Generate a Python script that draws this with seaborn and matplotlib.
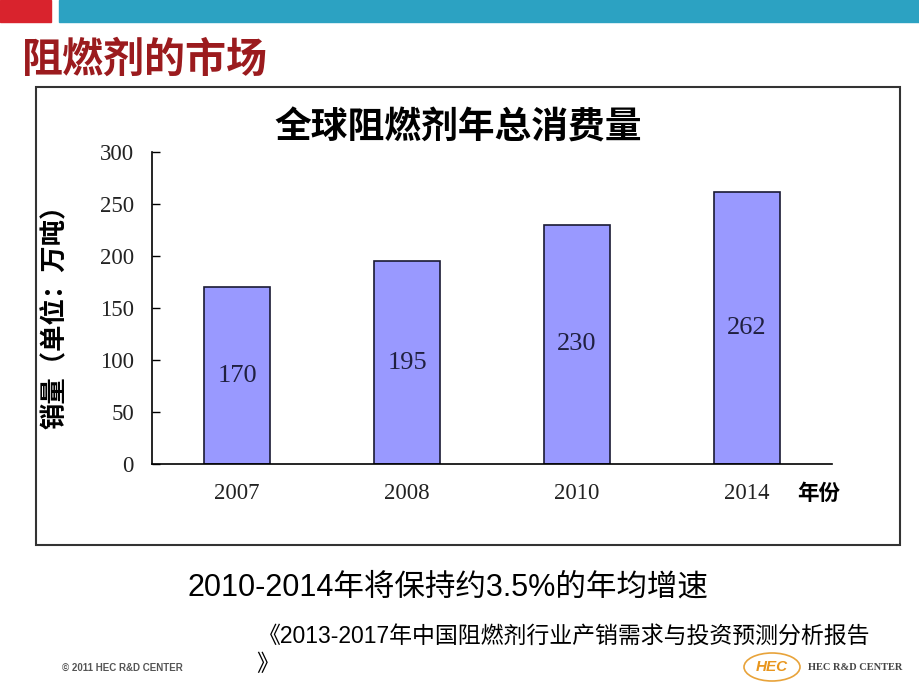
import pandas as pd
import matplotlib
matplotlib.use('Agg')
import matplotlib.pyplot as plt
import matplotlib.patches as mpatches
import seaborn as sns

# chart data
years = ['2007', '2008', '2010', '2014']
consumption = [170, 195, 230, 262]
y_ticks = [0, 50, 100, 150, 200, 250, 300]

page_title = '阻燃剂的市场'
chart_title = '全球阻燃剂年总消费量'
y_label = '销量（单位：万吨）'
x_label = '年份'
subtitle = '2010-2014年将保持约3.5%的年均增速'
source_line1 = '《2013-2017年中国阻燃剂行业产销需求与投资预测分析报告'
source_line2 = '》'
footer = '© 2011 HEC R&D CENTER'

df = pd.DataFrame({'year': years, 'value': consumption})

sns.set_theme(style='white')
plt.rcParams['font.family'] = ['Noto Sans CJK SC', 'DejaVu Sans']
latin_cjk = ['Liberation Sans', 'Noto Sans CJK SC']

W, H = 920, 690
fig = plt.figure(figsize=(W / 100, H / 100), dpi=100)
fig.patch.set_facecolor('white')


def fx(px):
    return px / W


def fy(py):
    return 1 - py / H


# slide header bars
fig.add_artist(mpatches.Rectangle((fx(0), fy(22)), fx(51), 22 / H,
                                  color='#D9232D', transform=fig.transFigure))
fig.add_artist(mpatches.Rectangle((fx(59), fy(22)), fx(861), 22 / H,
                                  color='#2CA2C2', transform=fig.transFigure))

fig.text(fx(22), fy(60), page_title, fontsize=29.5, fontweight='bold',
         color='#9B1B1E', ha='left', va='center')

# chart frame
fig.add_artist(mpatches.Rectangle((fx(36), fy(545)), fx(864), 458 / H,
                                  fill=False, edgecolor='#333333', linewidth=1.5,
                                  transform=fig.transFigure))

ax = fig.add_axes([fx(152), fy(464), fx(832 - 152), (464 - 152) / H])
sns.barplot(data=df, x='year', y='value', color='#9999FF', saturation=1,
            edgecolor='#1a1a33', linewidth=1.2, width=0.39, ax=ax)

ax.set_xlim(-0.5, len(years) - 0.5)
ax.set_ylim(0, 300)
ax.set_yticks(y_ticks)
ax.set_yticklabels([str(t) for t in y_ticks], fontfamily='Liberation Serif',
                   fontsize=16.5, color='#222222')
ax.set_xticks([i - 0.5 for i in range(len(years) + 1)])
ax.set_xticklabels([])
ax.set_xticks(range(len(years)), minor=True)
ax.set_xticklabels(years, minor=True, fontfamily='Liberation Serif',
                   fontsize=16.5, color='#222222')
ax.tick_params(axis='x', which='major', direction='in', length=6, width=1, color='black')
ax.tick_params(axis='x', which='minor', length=0, pad=14)
ax.tick_params(axis='y', direction='in', length=6, width=1, color='black', pad=13, left=True)
ax.set_xlabel('')
ax.set_ylabel('')
for side in ['top', 'right']:
    ax.spines[side].set_visible(False)
for side in ['left', 'bottom']:
    ax.spines[side].set_color('black')
    ax.spines[side].set_linewidth(1.2)

ax.bar_label(ax.containers[0], labels=[str(v) for v in consumption],
             label_type='center', fontfamily='Liberation Serif', fontsize=19,
             color='#202040')

fig.text(fx(458), fy(128), chart_title, fontsize=26.5, fontweight='bold',
         color='black', ha='center', va='center')
fig.text(fx(55), fy(310), y_label, fontsize=19, fontweight='bold',
         rotation=90, ha='center', va='center', color='black')
fig.text(fx(819), fy(493), x_label, fontsize=15.5, fontweight='bold',
         ha='center', va='center', color='black')

# notes under chart
fig.text(fx(448), fy(588), subtitle, fontsize=22, family=latin_cjk,
         ha='center', va='center', color='black')
fig.text(fx(258), fy(637), source_line1, fontsize=16.5, family=latin_cjk,
         ha='left', va='center', color='black')
fig.text(fx(256), fy(665), source_line2, fontsize=16.5, family=latin_cjk,
         ha='left', va='center', color='black')

# footer
fig.text(fx(62), fy(668), footer, fontsize=7, fontweight='bold',
         fontfamily='Liberation Sans', ha='left', va='center', color='#555555')
fig.add_artist(mpatches.Ellipse((fx(772), fy(667)), fx(56), 28 / H, fill=False,
                                edgecolor='#E8A33A', linewidth=1.2,
                                transform=fig.transFigure))
fig.text(fx(772), fy(667), 'HEC', fontsize=11, fontweight='bold', style='italic',
         fontfamily='Liberation Sans', color='#E8961E', ha='center', va='center')
fig.text(fx(808), fy(667), 'HEC R&D CENTER', fontsize=7.5, fontweight='bold',
         fontfamily='Liberation Serif', color='#444444', ha='left', va='center')

fig.savefig('out.png', dpi=100)
